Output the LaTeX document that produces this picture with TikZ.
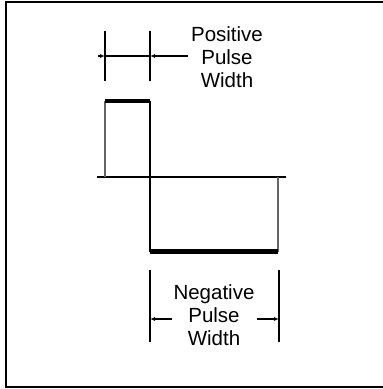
\documentclass[tikz,border=0pt]{standalone}
\usepackage{fontspec}
\setmainfont{Liberation Sans}
\usepackage{xcolor}
\usetikzlibrary{arrows.meta,positioning}
\definecolor{edgegray}{RGB}{100,100,100}
\tikzset{
  frame/.style={line width=2pt},
  axisline/.style={line width=2pt},
  edge/.style={line width=1.2pt,draw=edgegray},
  level/.style={line width=4.5pt,line cap=butt},
  tick/.style={line width=1.3pt},
  dimarr/.style={-{Latex[length=5pt,width=4pt]},line width=1.2pt},
  lbl/.style={font=\fontsize{20.5}{23}\selectfont,align=center,inner sep=0pt},
}
\begin{document}
\begin{tikzpicture}[x=1pt,y=-1pt]
  \useasboundingbox (0,0) rectangle (383,389);
  % Frame
  \draw[frame] (385,2) -- (6,2) -- (6,387) -- (385,387);

  % Waveform
  \coordinate (axl) at (97,177);
  \coordinate (axr) at (286,177);
  \coordinate (rise) at (105,177);
  \coordinate (ptl) at (105,101);
  \coordinate (ptr) at (150,101);
  \coordinate (nbl) at (150,251.5);
  \coordinate (nbr) at (278,251.5);
  \coordinate (fall) at (278,177);
  \draw[axisline] (axl) -- (axr);
  \draw[edge] (rise) -- (ptl);
  \draw[edge] (fall) -- (nbr);
  \draw[tick] (ptr) -- (nbl);
  \draw[level] (ptl) -- (ptr);
  \draw[level] (nbl) -- (nbr);

  % Positive width
  \coordinate (pt1) at (105,31);
  \coordinate (pb1) at (105,81);
  \coordinate (pt2) at (150,31);
  \coordinate (pb2) at (150,81);
  \coordinate (pa0) at (98,56);
  \coordinate (pa1) at (105,56);
  \coordinate (pa2) at (150,56);
  \coordinate (pa3) at (188,56);
  \draw[tick] (pt1) -- (pb1);
  \draw[tick] (pt2) -- (pb2);
  \draw[dimarr] (pa0) -- (pa1);
  \draw[tick] (pa1) -- (pa2);
  \draw[dimarr] (pa3) -- (pa2);
  \node[lbl] (poslbl) at (227,57) {Positive\\Pulse\\Width};

  % Negative width
  \coordinate (nt1) at (150,270);
  \coordinate (nb1) at (150,342);
  \coordinate (nt2) at (279,270);
  \coordinate (nb2) at (279,342);
  \coordinate (na1) at (172,319);
  \coordinate (na2) at (257,319);
  \draw[tick] (nt1) -- (nb1);
  \draw[tick] (nt2) -- (nb2);
  \draw[dimarr] (na1) -- (nb1|-na1);
  \draw[dimarr] (na2) -- (nb2|-na2);
  \node[lbl] (neglbl) at (214,315) {Negative\\Pulse\\Width};
\end{tikzpicture}
\end{document}
